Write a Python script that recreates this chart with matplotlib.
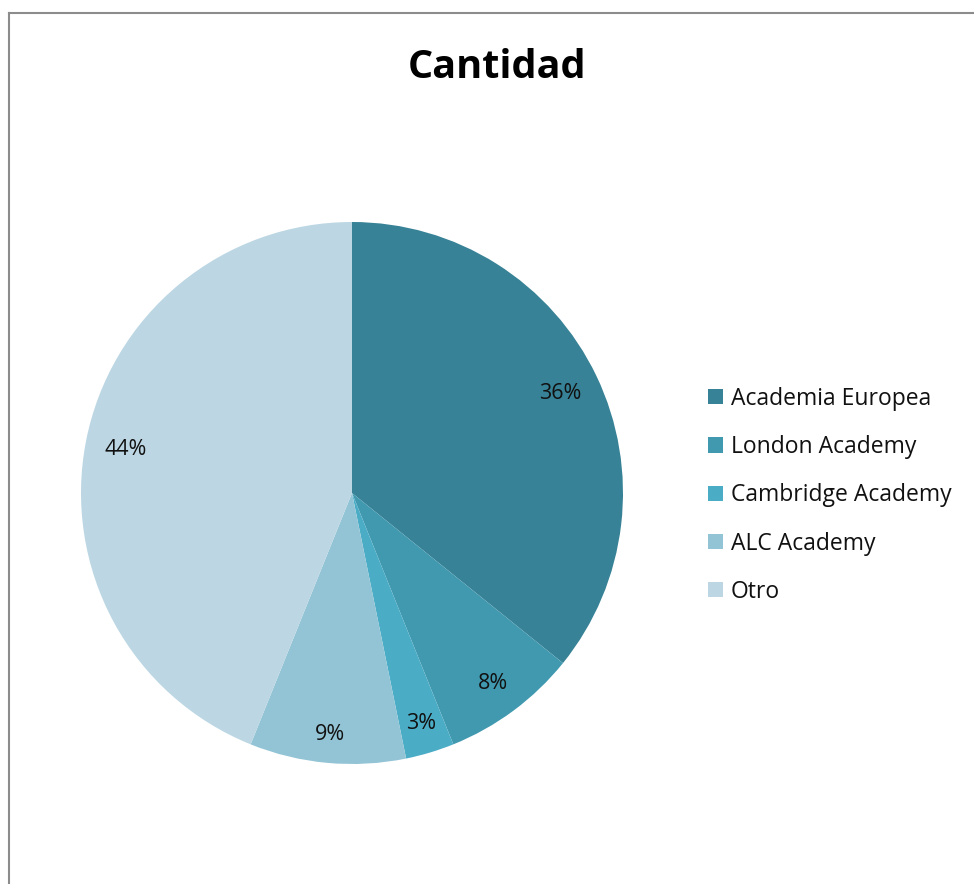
import matplotlib
matplotlib.use("Agg")
import matplotlib.pyplot as plt
import numpy as np
from matplotlib.lines import Line2D

# Data
labels = ["Academia Europea", "London Academy", "Cambridge Academy", "ALC Academy", "Otro"]
shares = [35.8, 8.1, 2.9, 9.3, 43.9]
colors = ["#378296", "#4199B0", "#4BACC6", "#93C4D5", "#BCD7E3"]
# radial position of the percent labels (fraction of radius), as Excel put them
label_dist = [0.85, 0.875, 0.89, 0.895, 0.85]

plt.rcParams["font.family"] = ["Open Sans", "DejaVu Sans"]

W, H = 974, 884
fig = plt.figure(figsize=(W / 100, H / 100), dpi=100)

# pie area: centre (352, 493), radius ~271 px
ax = fig.add_axes([81 / W, (H - 764) / H, 542 / W, 542 / H])
wedges, texts, autotexts = ax.pie(
    shares,
    colors=colors,
    startangle=90,
    counterclock=False,
    autopct="%.0f%%",
    pctdistance=0.86,
    textprops={"fontsize": 15.5, "color": "#111111"},
)
for w, t, d in zip(wedges, autotexts, label_dist):
    ang = np.deg2rad((w.theta1 + w.theta2) / 2)
    t.set_position((d * np.cos(ang), d * np.sin(ang)))
ax.set_xlim(-1, 1)
ax.set_ylim(-1, 1)

fig.text(497 / W, 1 - 67 / H, "Cantidad", ha="center", va="center",
         fontsize=28.5, fontweight="bold")

fig.legend(
    wedges,
    labels,
    loc="upper left",
    bbox_to_anchor=(687 / W, 1 - 366 / H),
    frameon=False,
    fontsize=16.5,
    handlelength=0.65,
    handleheight=0.65,
    handletextpad=0.35,
    labelspacing=1.06,
    labelcolor="#111111",
)

# outer chart border (gray), clipped by right and bottom edge
fig.add_artist(Line2D([9 / W, 1], [1 - 13 / H, 1 - 13 / H], color="#8c8c8c", lw=1.5))
fig.add_artist(Line2D([9 / W, 9 / W], [0, 1 - 13 / H], color="#8c8c8c", lw=1.5))

fig.savefig("out.png", dpi=100, facecolor="white")
